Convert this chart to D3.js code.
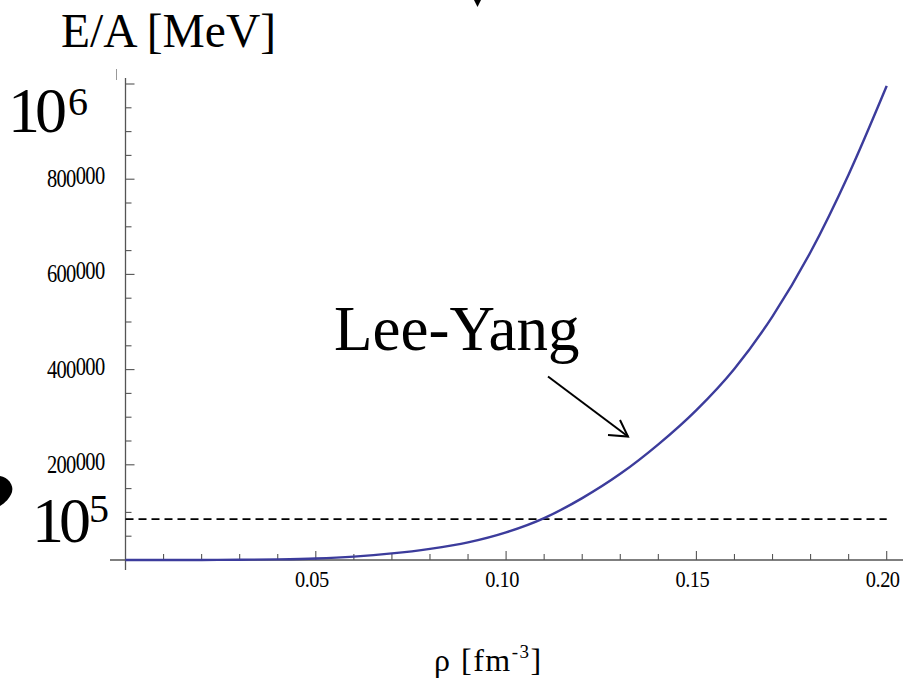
<!DOCTYPE html>
<html>
<head>
<meta charset="utf-8">
<script src="https://cdn.jsdelivr.net/npm/d3@7"></script>
<style>
  html, body { margin: 0; padding: 0; background: #fff; }
  svg { display: block; font-family: "Liberation Serif", "Times New Roman", serif; }
</style>
</head>
<body>
<svg id="chart" width="905" height="680"></svg>
<script>
// ---- data ----
const rho = [0, 0.01, 0.02, 0.03, 0.04, 0.05, 0.06, 0.07, 0.08, 0.09, 0.10,
             0.11, 0.12, 0.13, 0.14, 0.15, 0.16, 0.17, 0.18, 0.19, 0.20];
const energy = [0, 5, 100, 500, 1400, 3300, 7200, 13800, 23500, 37000, 58000,
                88000, 130000, 181000, 243000, 315000, 402000, 512000, 647000, 810000, 996000];
const referenceLevel = 86000;       // dashed line (labelled 10^5)
const xMajorTicks = [0.05, 0.10, 0.15, 0.20];
const xTickLabels = ["0.05", "0.10", "0.15", "0.20"];
const yMajorTicks = [200000, 400000, 600000, 800000];
const yTickLabels = ["200000", "400000", "600000", "800000"];
const curveLabel = "Lee-Yang";

// ---- layout ----
const svg = d3.select("#chart");
const x = d3.scaleLinear().domain([0, 0.2]).range([125.5, 886.7]);
const y = d3.scaleLinear().domain([0, 1e6]).range([560, 84]);
const axisColor = "#555";

// minor tick values
const xMinor = d3.range(1, 21).map(i => i / 100).filter(v => !xMajorTicks.some(m => Math.abs(m - v) < 1e-9));
const yMinor = d3.range(1, 21).map(i => i * 50000).filter(v => !yMajorTicks.includes(v) && v !== 1e6);

// x axis
const gx = svg.append("g").attr("transform", `translate(0,${y(0)})`);
gx.append("line").attr("x1", 110).attr("x2", 903).attr("y1", 0).attr("y2", 0)
  .attr("stroke", axisColor).attr("stroke-width", 1.3);
gx.selectAll("line.minor").data(xMinor).join("line").attr("class", "minor")
  .attr("x1", d => x(d)).attr("x2", d => x(d)).attr("y1", 0).attr("y2", -6)
  .attr("stroke", axisColor).attr("stroke-width", 1.1);
gx.selectAll("line.major").data(xMajorTicks).join("line").attr("class", "major")
  .attr("x1", d => x(d)).attr("x2", d => x(d)).attr("y1", 0).attr("y2", -9)
  .attr("stroke", axisColor).attr("stroke-width", 1.1);
gx.selectAll("text").data(xMajorTicks).join("text")
  .attr("transform", d => `translate(${x(d) - 4},27) scale(0.85,1)`)
  .attr("text-anchor", "middle").attr("font-size", 24).attr("letter-spacing", -0.6)
  .attr("fill", "#000")
  .text((d, i) => xTickLabels[i]);

// y axis
const gy = svg.append("g").attr("transform", `translate(${x(0)},0)`);
gy.append("line").attr("x1", 0).attr("x2", 0).attr("y1", 78).attr("y2", 570)
  .attr("stroke", axisColor).attr("stroke-width", 1.3);
gy.selectAll("line.minor").data(yMinor).join("line").attr("class", "minor")
  .attr("x1", 0).attr("x2", 6).attr("y1", d => y(d)).attr("y2", d => y(d))
  .attr("stroke", axisColor).attr("stroke-width", 1.1);
gy.selectAll("line.major").data(yMajorTicks.concat([1e6])).join("line").attr("class", "major")
  .attr("x1", 0).attr("x2", 9).attr("y1", d => y(d)).attr("y2", d => y(d))
  .attr("stroke", axisColor).attr("stroke-width", 1.1);
const yl = gy.selectAll("text").data(yMajorTicks).join("text")
  .attr("transform", d => `translate(-21,${y(d) + 8}) scale(0.82,1)`)
  .attr("text-anchor", "end").attr("font-size", 25).attr("letter-spacing", -0.8)
  .attr("fill", "#000");
yl.append("tspan").text((d, i) => yTickLabels[i].slice(0, 3));
yl.append("tspan").attr("dy", -3).text((d, i) => yTickLabels[i].slice(3));

// tiny mark near top of y axis
svg.append("line").attr("x1", 116.5).attr("x2", 116.5).attr("y1", 69).attr("y2", 80)
  .attr("stroke", "#999").attr("stroke-width", 1);

// dashed reference line
svg.append("line")
  .attr("x1", x(0)).attr("x2", x(0.2))
  .attr("y1", y(referenceLevel)).attr("y2", y(referenceLevel))
  .attr("stroke", "#000").attr("stroke-width", 1.8).attr("stroke-dasharray", "8,5");

// curve
const line = d3.line().x((d, i) => x(rho[i])).y(d => y(d)).curve(d3.curveMonotoneX);
svg.append("path").datum(energy).attr("d", line)
  .attr("fill", "none").attr("stroke", "#3c3c9c").attr("stroke-width", 2.4);

// big power-of-ten labels
function power(xp, yp, base, exp, dx, dy) {
  const t = svg.append("text").attr("x", xp).attr("y", yp).attr("font-size", 64)
    .attr("letter-spacing", -5).attr("fill", "#000");
  t.append("tspan").text(base);
  t.append("tspan").attr("font-size", 40).attr("dy", dy).attr("dx", dx).attr("letter-spacing", 0).text(exp);
}
power(8, 132, "10", "6", 6, -17);
power(32, 542, "10", "5", 3, -20);

// axis titles
svg.append("text").attr("x", 61).attr("y", 47).attr("font-size", 47.5).attr("fill", "#000")
  .text("E/A [MeV]");
const xt = svg.append("text").attr("x", 434).attr("y", 671).attr("font-size", 32)
  .attr("letter-spacing", 1.5).attr("fill", "#000");
xt.append("tspan").text("ρ [fm");
xt.append("tspan").attr("font-size", 19).attr("dy", -13).text("-3");
xt.append("tspan").attr("dy", 13).text("]");

// annotation
svg.append("text").attr("x", 334).attr("y", 350).attr("font-size", 63).attr("fill", "#000")
  .text(curveLabel);
svg.append("line").attr("x1", 548).attr("y1", 376.5).attr("x2", 628).attr("y2", 436.5)
  .attr("stroke", "#000").attr("stroke-width", 2);
svg.append("path").attr("d", "M608,435 L628,436.5 L620,420")
  .attr("fill", "none").attr("stroke", "#000").attr("stroke-width", 2);

// stray arrow pieces at slide edges
svg.append("path").attr("d", "M474,0 L481,0 L477.5,7 Z").attr("fill", "#000");
svg.append("path").attr("d", "M0,476 C8,477 14,485 12,492 C10,498 5,503 0,506 Z")
  .attr("fill", "#000");
</script>
</body>
</html>
